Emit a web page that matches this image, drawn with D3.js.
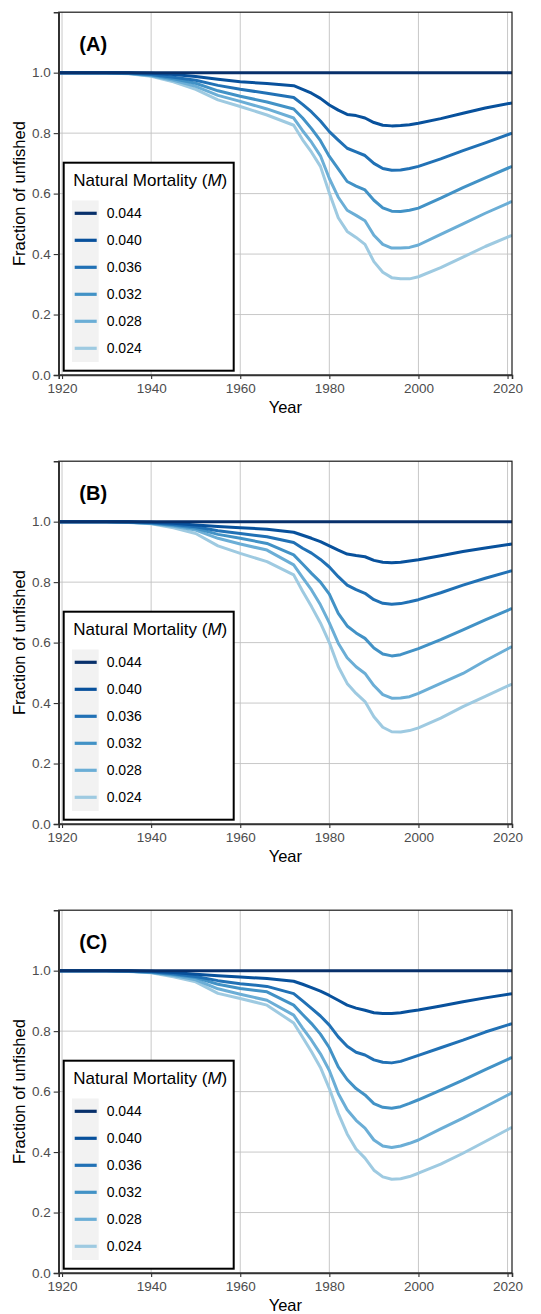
<!DOCTYPE html>
<html>
<head>
<meta charset="utf-8">
<script src="https://cdn.jsdelivr.net/npm/d3@7"></script>
<style>
  body { margin: 0; background: #fff; }
  text { font-family: "Liberation Sans", Arial, sans-serif; }
</style>
</head>
<body>
<div id="chart"></div>
<script>
// years shared by every series
const years = [1919, 1930, 1935, 1940, 1945, 1950, 1955, 1960, 1966, 1972, 1974, 1976, 1978, 1980,
  1982, 1984, 1986, 1988, 1990, 1992, 1994, 1996, 1998, 2000, 2005, 2010, 2015, 2021];

const mortality = ["0.044", "0.040", "0.036", "0.032", "0.028", "0.024"];
const colors = ["#08306b", "#08519c", "#2171b5", "#4292c6", "#6baed6", "#9ecae1"];
const xTicks = [1920, 1940, 1960, 1980, 2000, 2020];
const yTicks = [0, 0.2, 0.4, 0.6, 0.8, 1.0];
const panelLabels = ["(A)", "(B)", "(C)"];

const flat044 = [1, 1, 1, 1, 1, 1, 1, 1, 1, 1, 1, 1, 1, 1, 1, 1, 1, 1, 1, 1, 1, 1, 1, 1, 1, 1, 1, 1];

// panel A
const a040 = [1, 1, 1, 0.998, 0.994, 0.987, 0.978, 0.970, 0.964, 0.957, 0.945, 0.932, 0.915, 0.893, 0.876, 0.862, 0.858, 0.850, 0.835, 0.826, 0.824, 0.825, 0.828, 0.833, 0.848, 0.866, 0.883, 0.900];
const a036 = [1, 1, 0.999, 0.994, 0.985, 0.975, 0.958, 0.945, 0.932, 0.918, 0.895, 0.870, 0.840, 0.805, 0.777, 0.750, 0.738, 0.726, 0.700, 0.683, 0.677, 0.678, 0.683, 0.690, 0.715, 0.742, 0.768, 0.800];
const a032 = [1, 1, 0.998, 0.992, 0.980, 0.965, 0.940, 0.922, 0.903, 0.880, 0.850, 0.815, 0.775, 0.723, 0.682, 0.640, 0.625, 0.612, 0.578, 0.553, 0.542, 0.541, 0.545, 0.552, 0.585, 0.620, 0.652, 0.690];
const a028 = [1, 0.999, 0.997, 0.990, 0.975, 0.955, 0.925, 0.905, 0.880, 0.850, 0.808, 0.770, 0.725, 0.650, 0.588, 0.545, 0.528, 0.510, 0.462, 0.432, 0.420, 0.420, 0.422, 0.430, 0.465, 0.500, 0.535, 0.574];
const a024 = [1, 0.999, 0.996, 0.988, 0.970, 0.945, 0.910, 0.888, 0.860, 0.826, 0.778, 0.737, 0.690, 0.602, 0.520, 0.475, 0.455, 0.432, 0.375, 0.340, 0.322, 0.318, 0.318, 0.325, 0.355, 0.390, 0.425, 0.462];

// panel B
const b040 = [1, 1, 1, 0.998, 0.995, 0.989, 0.984, 0.980, 0.975, 0.965, 0.955, 0.945, 0.934, 0.920, 0.906, 0.893, 0.888, 0.884, 0.872, 0.866, 0.864, 0.866, 0.870, 0.874, 0.887, 0.901, 0.913, 0.926];
const b036 = [1, 1, 0.999, 0.996, 0.991, 0.983, 0.970, 0.961, 0.950, 0.931, 0.912, 0.896, 0.875, 0.850, 0.818, 0.790, 0.775, 0.763, 0.742, 0.730, 0.727, 0.729, 0.735, 0.742, 0.765, 0.790, 0.813, 0.838];
const b032 = [1, 1, 0.998, 0.995, 0.988, 0.978, 0.958, 0.945, 0.928, 0.890, 0.860, 0.829, 0.800, 0.760, 0.697, 0.655, 0.632, 0.614, 0.582, 0.562, 0.556, 0.560, 0.570, 0.580, 0.610, 0.642, 0.675, 0.713];
const b028 = [1, 1, 0.998, 0.994, 0.985, 0.972, 0.945, 0.926, 0.906, 0.857, 0.815, 0.774, 0.725, 0.665, 0.598, 0.550, 0.520, 0.498, 0.458, 0.428, 0.416, 0.417, 0.421, 0.432, 0.465, 0.498, 0.540, 0.587];
const b024 = [1, 1, 0.997, 0.993, 0.980, 0.961, 0.920, 0.895, 0.868, 0.824, 0.770, 0.719, 0.665, 0.600, 0.521, 0.465, 0.432, 0.405, 0.355, 0.320, 0.305, 0.304, 0.309, 0.318, 0.350, 0.388, 0.422, 0.463];

// panel C
const c040 = [1, 1, 1, 0.998, 0.994, 0.988, 0.983, 0.979, 0.974, 0.965, 0.955, 0.944, 0.932, 0.918, 0.902, 0.886, 0.876, 0.869, 0.861, 0.858, 0.858, 0.861, 0.866, 0.870, 0.883, 0.897, 0.910, 0.924];
const c036 = [1, 1, 0.999, 0.996, 0.990, 0.981, 0.967, 0.957, 0.948, 0.924, 0.900, 0.875, 0.850, 0.820, 0.781, 0.750, 0.730, 0.721, 0.705, 0.697, 0.695, 0.700, 0.710, 0.720, 0.745, 0.770, 0.797, 0.825];
const c032 = [1, 1, 0.998, 0.995, 0.987, 0.977, 0.955, 0.941, 0.930, 0.886, 0.855, 0.825, 0.790, 0.745, 0.682, 0.640, 0.610, 0.589, 0.560, 0.548, 0.545, 0.550, 0.561, 0.573, 0.605, 0.638, 0.673, 0.713];
const c028 = [1, 1, 0.998, 0.994, 0.984, 0.970, 0.940, 0.922, 0.902, 0.853, 0.810, 0.770, 0.725, 0.670, 0.594, 0.540, 0.505, 0.479, 0.440, 0.420, 0.415, 0.420, 0.429, 0.440, 0.477, 0.512, 0.550, 0.596];
const c024 = [1, 1, 0.997, 0.993, 0.980, 0.963, 0.925, 0.908, 0.886, 0.827, 0.780, 0.732, 0.680, 0.610, 0.528, 0.460, 0.410, 0.380, 0.340, 0.318, 0.310, 0.312, 0.319, 0.330, 0.360, 0.396, 0.435, 0.482];

const panels = [
  [flat044, a040, a036, a032, a028, a024],
  [flat044, b040, b036, b032, b028, b024],
  [flat044, c040, c036, c032, c028, c024],
];

const width = 541, height = 1314;
const panelStep = 449;
const plot = { left: 58.7, right: 512, top: 12.2, bottom: 375 };

const svg = d3.select("#chart").append("svg")
  .attr("width", width)
  .attr("height", height);

svg.append("defs").append("clipPath").attr("id", "plot-clip")
  .append("rect")
  .attr("x", plot.left).attr("y", plot.top)
  .attr("width", plot.right - plot.left)
  .attr("height", plot.bottom - plot.top);

const x = d3.scaleLinear().domain([1919.25, 2021]).range([plot.left, plot.right]);
const y = d3.scaleLinear().domain([0, 1.2]).range([plot.bottom, plot.top]);

const line = d3.line()
  .x((d, i) => x(years[i]))
  .y(d => y(d));

panels.forEach((series, p) => {
  const g = svg.append("g").attr("transform", `translate(0,${p * panelStep})`);

  // grid
  g.append("g").selectAll("line.vgrid")
    .data(xTicks)
    .join("line")
    .attr("x1", d => x(d)).attr("x2", d => x(d))
    .attr("y1", plot.top).attr("y2", plot.bottom)
    .attr("stroke", "#c2c2c2").attr("stroke-width", 0.9);
  g.append("g").selectAll("line.hgrid")
    .data(yTicks)
    .join("line")
    .attr("y1", d => y(d)).attr("y2", d => y(d))
    .attr("x1", plot.left).attr("x2", plot.right)
    .attr("stroke", "#c2c2c2").attr("stroke-width", 0.9);

  // series, lightest first so the dark ones sit on top
  const lines = g.append("g").attr("clip-path", "url(#plot-clip)");
  series.map((vals, i) => ({ vals, i })).reverse().forEach(s => {
    lines.append("path")
      .attr("d", line(s.vals))
      .attr("fill", "none")
      .attr("stroke", colors[s.i])
      .attr("stroke-width", 3)
      .attr("stroke-linejoin", "round");
  });

  // panel border
  g.append("rect")
    .attr("x", plot.left).attr("y", plot.top)
    .attr("width", plot.right - plot.left)
    .attr("height", plot.bottom - plot.top)
    .attr("fill", "none")
    .attr("stroke", "#1a1a1a").attr("stroke-width", 1.2);

  // axes
  const xAxis = g.append("g")
    .attr("transform", `translate(0,${plot.bottom})`)
    .call(d3.axisBottom(x).tickValues(xTicks).tickFormat(d3.format("d")).tickSize(4).tickPadding(4));
  const yAxis = g.append("g")
    .attr("transform", `translate(${plot.left},0)`)
    .call(d3.axisLeft(y).tickValues(yTicks).tickFormat(d3.format(".1f")).tickSize(5).tickPadding(3));
  [xAxis, yAxis].forEach(ax => {
    ax.select(".domain").attr("stroke", "#333").attr("stroke-width", 1.6);
    ax.selectAll(".tick line").attr("stroke", "#333").attr("stroke-width", 1.1);
    ax.selectAll(".tick text")
      .attr("fill", "#4d4d4d")
      .style("font-size", "13.5px")
      .style("font-family", "'Liberation Sans', Arial, sans-serif");
  });

  // axis titles
  g.append("text")
    .attr("x", (plot.left + plot.right) / 2)
    .attr("y", 413)
    .attr("text-anchor", "middle")
    .style("font-size", "16.5px")
    .text("Year");
  g.append("text")
    .attr("transform", `translate(24.5,${(plot.top + plot.bottom) / 2}) rotate(-90)`)
    .attr("text-anchor", "middle")
    .style("font-size", "16.5px")
    .text("Fraction of unfished");

  // panel tag
  g.append("text")
    .attr("x", 79.3).attr("y", 50.5)
    .style("font-size", "20px")
    .style("font-weight", "bold")
    .text(panelLabels[p]);

  // legend
  const legend = g.append("g");
  legend.append("rect")
    .attr("x", 63.7).attr("y", 162.7)
    .attr("width", 170).attr("height", 208)
    .attr("fill", "#fff")
    .attr("stroke", "#000").attr("stroke-width", 2);
  const title = legend.append("text")
    .attr("x", 73.3).attr("y", 186)
    .style("font-size", "17px");
  title.append("tspan").text("Natural Mortality (");
  title.append("tspan").style("font-style", "italic").text("M");
  title.append("tspan").text(")");

  legend.append("rect")
    .attr("x", 72).attr("y", 200.5)
    .attr("width", 26.7).attr("height", 161.5)
    .attr("fill", "#f2f2f2");

  const keys = legend.selectAll("g.key")
    .data(mortality)
    .join("g")
    .attr("transform", (d, i) => `translate(0,${213.3 + i * 27})`);
  keys.append("line")
    .attr("x1", 74.7).attr("x2", 96.7)
    .attr("stroke", (d, i) => colors[i])
    .attr("stroke-width", 3.2);
  keys.append("text")
    .attr("x", 106.7)
    .attr("dy", "0.36em")
    .style("font-size", "14px")
    .text(d => d);
});
</script>
</body>
</html>
